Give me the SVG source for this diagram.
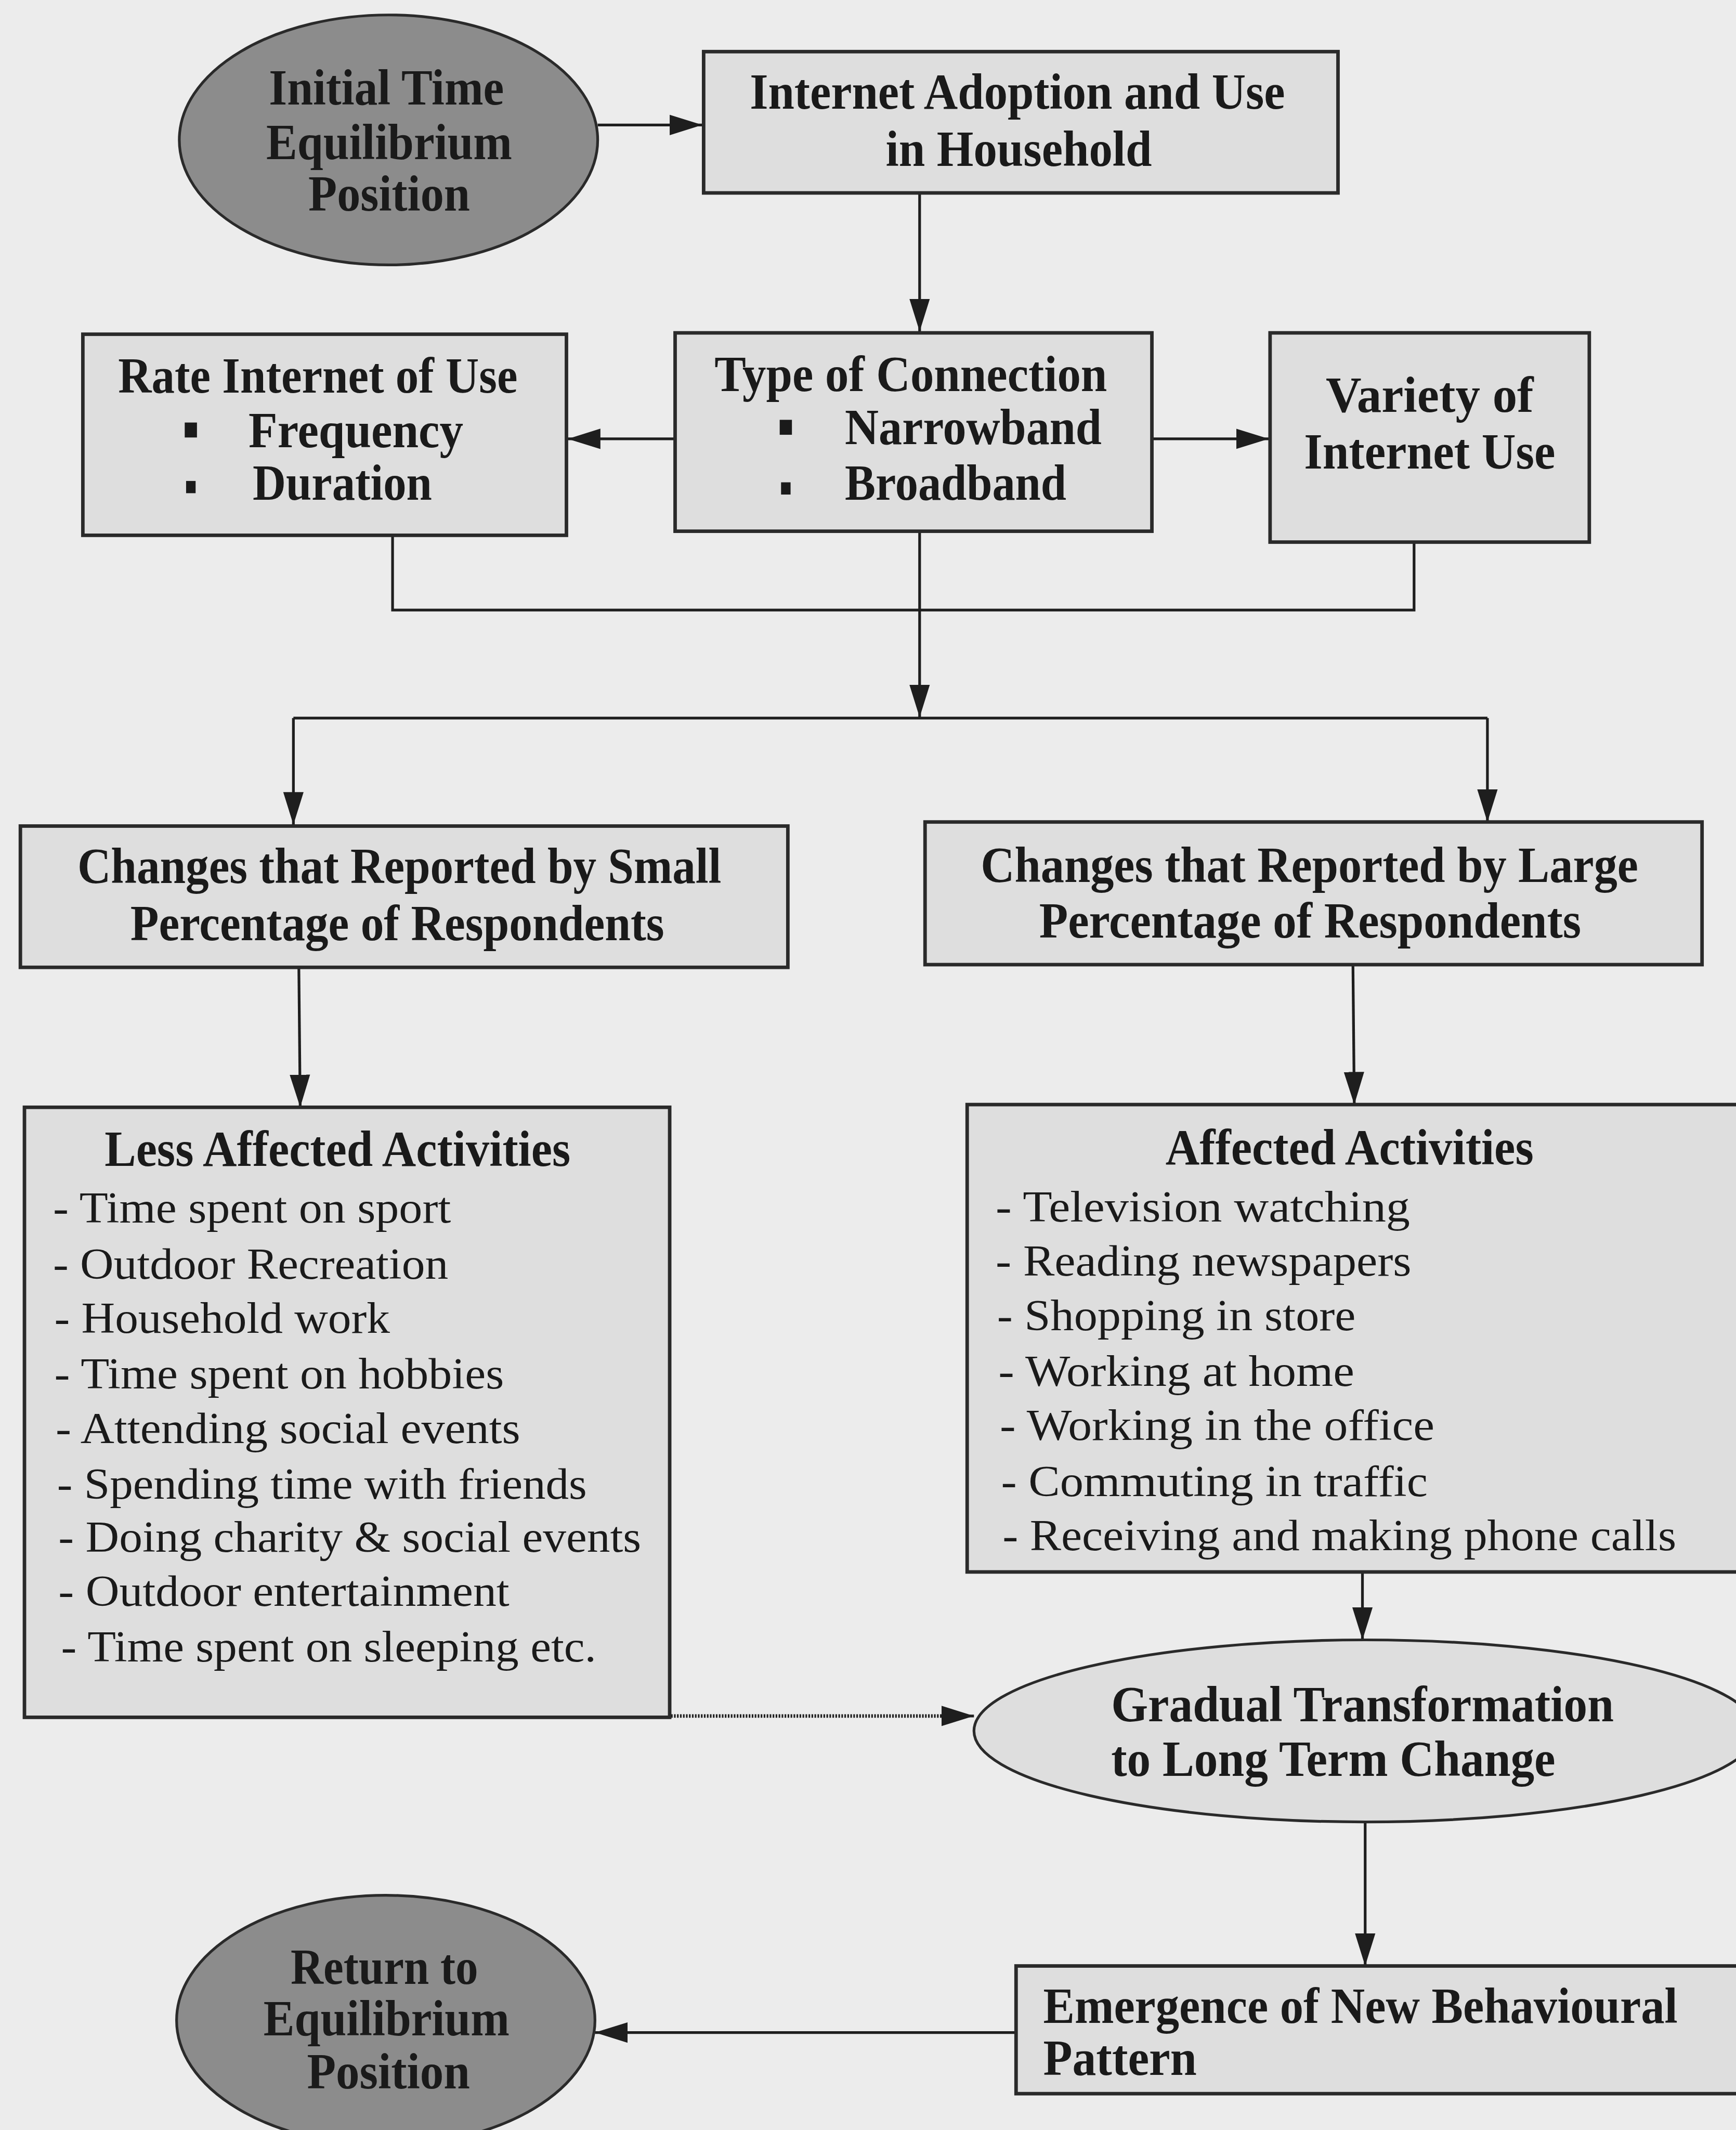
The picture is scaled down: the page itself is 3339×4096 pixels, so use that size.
<svg xmlns="http://www.w3.org/2000/svg" width="3339" height="4096" viewBox="0 0 3339 4096">
  <defs>
    <marker id="arrow" markerUnits="userSpaceOnUse" markerWidth="24" markerHeight="18" viewBox="0 0 24 18" refX="24" refY="9" orient="auto">
      <path d="M0,1.5 L24,9 L0,16.5 Z" fill="#1e1e1e"/>
    </marker>
    <style>
      .box { fill: #dedede; stroke: #2a2a2a; stroke-width: 2.6; }
      .oval-dark { fill: #8c8c8c; stroke: #2a2a2a; stroke-width: 2; }
      .oval-light { fill: #dedede; stroke: #2a2a2a; stroke-width: 2; }
      .link { fill: none; stroke: #1e1e1e; stroke-width: 2; }
      .dotted { fill: none; stroke: #1e1e1e; stroke-width: 2.6; stroke-dasharray: 1.2 1; }
      .h { font-family: "Liberation Serif", "Times New Roman", serif; font-weight: bold; font-size: 37px; fill: #1a1a1a; }
      .t { font-family: "Liberation Serif", "Times New Roman", serif; font-size: 32px; fill: #1a1a1a; }
      .bullet { fill: #1a1a1a; }
    </style>
  </defs>

  <rect x="0" y="0" width="3339" height="4096" fill="#ececec"/>

  <g transform="scale(2.61268)">
    <!-- connectors -->
    <g id="connectors">
      <line class="link" x1="440" y1="92" x2="517" y2="92" marker-end="url(#arrow)"/>
      <line class="link" x1="677" y1="142" x2="677" y2="244" marker-end="url(#arrow)"/>
      <line class="link" x1="497" y1="323" x2="418" y2="323" marker-end="url(#arrow)"/>
      <line class="link" x1="848" y1="323" x2="934" y2="323" marker-end="url(#arrow)"/>
      <polyline class="link" points="289,394 289,449 1041,449 1041,399"/>
      <line class="link" x1="677" y1="391" x2="677" y2="528" marker-end="url(#arrow)"/>
      <line class="link" x1="216" y1="528.5" x2="1095" y2="528.5"/>
      <line class="link" x1="216" y1="528.5" x2="216" y2="607" marker-end="url(#arrow)"/>
      <line class="link" x1="1095" y1="528.5" x2="1095" y2="605" marker-end="url(#arrow)"/>
      <line class="link" x1="220" y1="712" x2="221" y2="815" marker-end="url(#arrow)"/>
      <line class="link" x1="996" y1="710" x2="997" y2="813" marker-end="url(#arrow)"/>
      <line class="link" x1="1003" y1="1157" x2="1003" y2="1207" marker-end="url(#arrow)"/>
      <line class="dotted" x1="494" y1="1263" x2="700" y2="1263"/>
      <line class="link" x1="700" y1="1263" x2="717" y2="1263" marker-end="url(#arrow)"/>
      <line class="link" x1="1005" y1="1341" x2="1005" y2="1447" marker-end="url(#arrow)"/>
      <line class="link" x1="748" y1="1496" x2="438" y2="1496" marker-end="url(#arrow)"/>
    </g>

    <!-- Initial Time Equilibrium Position -->
    <g id="initial-equilibrium">
      <ellipse class="oval-dark" cx="286" cy="103" rx="154" ry="92"/>
      <text class="h" x="198" y="77" textLength="173" lengthAdjust="spacingAndGlyphs">Initial Time</text>
      <text class="h" x="196" y="117" textLength="181" lengthAdjust="spacingAndGlyphs">Equilibrium</text>
      <text class="h" x="227" y="155" textLength="119" lengthAdjust="spacingAndGlyphs">Position</text>
    </g>

    <!-- Internet Adoption and Use in Household -->
    <g id="internet-adoption">
      <rect class="box" x="518" y="38" width="467" height="104"/>
      <text class="h" x="552" y="80" textLength="394" lengthAdjust="spacingAndGlyphs">Internet Adoption and Use</text>
      <text class="h" x="652" y="122" textLength="196" lengthAdjust="spacingAndGlyphs">in Household</text>
    </g>

    <!-- Rate of Internet Use -->
    <g id="rate-of-use">
      <rect class="box" x="61" y="246" width="356" height="148"/>
      <text class="h" x="87" y="289" textLength="294" lengthAdjust="spacingAndGlyphs">Rate Internet of Use</text>
      <rect class="bullet" x="136" y="311" width="9" height="11"/>
      <text class="h" x="183" y="329" textLength="158" lengthAdjust="spacingAndGlyphs">Frequency</text>
      <rect class="bullet" x="137" y="354" width="7" height="9"/>
      <text class="h" x="186" y="368" textLength="132" lengthAdjust="spacingAndGlyphs">Duration</text>
    </g>

    <!-- Type of Connection -->
    <g id="type-of-connection">
      <rect class="box" x="497" y="245" width="351" height="146"/>
      <text class="h" x="526" y="288" textLength="289" lengthAdjust="spacingAndGlyphs">Type of Connection</text>
      <rect class="bullet" x="574" y="309" width="9" height="11"/>
      <text class="h" x="622" y="327" textLength="189" lengthAdjust="spacingAndGlyphs">Narrowband</text>
      <rect class="bullet" x="575" y="355" width="7" height="9"/>
      <text class="h" x="622" y="368" textLength="163" lengthAdjust="spacingAndGlyphs">Broadband</text>
    </g>

    <!-- Variety of Internet Use -->
    <g id="variety-of-use">
      <rect class="box" x="935" y="245" width="235" height="154"/>
      <text class="h" x="976" y="303" textLength="153" lengthAdjust="spacingAndGlyphs">Variety of</text>
      <text class="h" x="960" y="345" textLength="185" lengthAdjust="spacingAndGlyphs">Internet Use</text>
    </g>

    <!-- Changes reported by a small share of respondents -->
    <g id="changes-small">
      <rect class="box" x="15" y="608" width="565" height="104"/>
      <text class="h" x="57" y="650" textLength="474" lengthAdjust="spacingAndGlyphs">Changes that Reported by Small</text>
      <text class="h" x="96" y="692" textLength="393" lengthAdjust="spacingAndGlyphs">Percentage of Respondents</text>
    </g>

    <!-- Changes reported by a large share of respondents -->
    <g id="changes-large">
      <rect class="box" x="681" y="605" width="572" height="105"/>
      <text class="h" x="722" y="649" textLength="484" lengthAdjust="spacingAndGlyphs">Changes that Reported by Large</text>
      <text class="h" x="765" y="690" textLength="399" lengthAdjust="spacingAndGlyphs">Percentage of Respondents</text>
    </g>

    <!-- Less Affected Activities -->
    <g id="less-affected">
      <rect class="box" x="18" y="815" width="475" height="449"/>
      <text class="h" x="77" y="858" textLength="343" lengthAdjust="spacingAndGlyphs">Less Affected Activities</text>
      <text class="t" x="39" y="900" textLength="293" lengthAdjust="spacingAndGlyphs">- Time spent on sport</text>
      <text class="t" x="39" y="941" textLength="291" lengthAdjust="spacingAndGlyphs">- Outdoor Recreation</text>
      <text class="t" x="40" y="981" textLength="247" lengthAdjust="spacingAndGlyphs">- Household work</text>
      <text class="t" x="40" y="1022" textLength="331" lengthAdjust="spacingAndGlyphs">- Time spent on hobbies</text>
      <text class="t" x="41" y="1062" textLength="342" lengthAdjust="spacingAndGlyphs">- Attending social events</text>
      <text class="t" x="42" y="1103" textLength="390" lengthAdjust="spacingAndGlyphs">- Spending time with friends</text>
      <text class="t" x="43" y="1142" textLength="429" lengthAdjust="spacingAndGlyphs">- Doing charity &amp; social events</text>
      <text class="t" x="43" y="1182" textLength="332" lengthAdjust="spacingAndGlyphs">- Outdoor entertainment</text>
      <text class="t" x="45" y="1223" textLength="394" lengthAdjust="spacingAndGlyphs">- Time spent on sleeping etc.</text>
    </g>

    <!-- Affected Activities -->
    <g id="affected">
      <rect class="box" x="712" y="813" width="590" height="344"/>
      <text class="h" x="858" y="857" textLength="271" lengthAdjust="spacingAndGlyphs">Affected Activities</text>
      <text class="t" x="733" y="899" textLength="305" lengthAdjust="spacingAndGlyphs">- Television watching</text>
      <text class="t" x="733" y="939" textLength="306" lengthAdjust="spacingAndGlyphs">- Reading newspapers</text>
      <text class="t" x="734" y="979" textLength="264" lengthAdjust="spacingAndGlyphs">- Shopping in store</text>
      <text class="t" x="735" y="1020" textLength="262" lengthAdjust="spacingAndGlyphs">- Working at home</text>
      <text class="t" x="736" y="1060" textLength="320" lengthAdjust="spacingAndGlyphs">- Working in the office</text>
      <text class="t" x="737" y="1101" textLength="314" lengthAdjust="spacingAndGlyphs">- Commuting in traffic</text>
      <text class="t" x="738" y="1141" textLength="496" lengthAdjust="spacingAndGlyphs">- Receiving and making phone calls</text>
    </g>

    <!-- Gradual Transformation to Long Term Change -->
    <g id="gradual-transformation">
      <ellipse class="oval-light" cx="1005" cy="1274" rx="288" ry="67"/>
      <text class="h" x="818" y="1267" textLength="370" lengthAdjust="spacingAndGlyphs">Gradual Transformation</text>
      <text class="h" x="818" y="1307" textLength="327" lengthAdjust="spacingAndGlyphs">to Long Term Change</text>
    </g>

    <!-- Emergence of New Behavioural Pattern -->
    <g id="new-pattern">
      <rect class="box" x="748" y="1447" width="560" height="94"/>
      <text class="h" x="768" y="1489" textLength="467" lengthAdjust="spacingAndGlyphs">Emergence of New Behavioural</text>
      <text class="h" x="768" y="1527" textLength="113" lengthAdjust="spacingAndGlyphs">Pattern</text>
    </g>

    <!-- Return to Equilibrium Position -->
    <g id="return-equilibrium">
      <ellipse class="oval-dark" cx="284" cy="1487" rx="154" ry="92"/>
      <text class="h" x="214" y="1460" textLength="138" lengthAdjust="spacingAndGlyphs">Return to</text>
      <text class="h" x="194" y="1498" textLength="181" lengthAdjust="spacingAndGlyphs">Equilibrium</text>
      <text class="h" x="226" y="1537" textLength="120" lengthAdjust="spacingAndGlyphs">Position</text>
    </g>
  </g>
</svg>
